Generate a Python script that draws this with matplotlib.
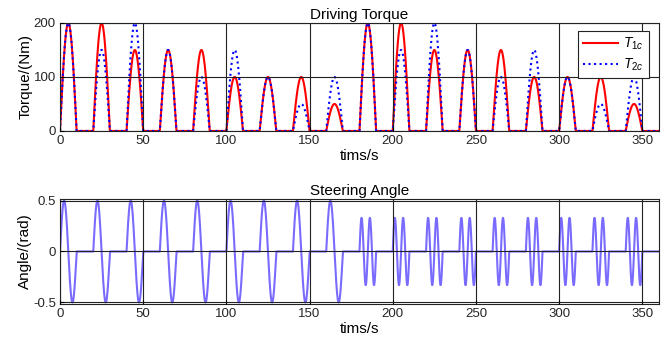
import numpy as np
from matplotlib import pyplot as plt

plt.rcParams['font.family'] = ['Liberation Sans', 'DejaVu Sans']
plt.rcParams['font.size'] = 9
plt.rcParams['mathtext.fontset'] = 'custom'
plt.rcParams['mathtext.it'] = 'Liberation Sans:italic'
plt.rcParams['mathtext.rm'] = 'Liberation Sans'

# pulse start times (s), each pulse lasts 10 s
pulse_start = [0, 20, 40, 60, 80, 100, 120, 140, 160,
               180, 200, 220, 240, 260, 280, 300, 320, 340]
# peak torque of each pulse (Nm)
t1_peak = [200, 200, 150, 150, 150, 100, 100, 100, 50,
           200, 200, 150, 150, 150, 100, 100, 100, 50]
t2_peak = [200, 150, 200, 150, 100, 150, 100, 50, 100,
           200, 150, 200, 150, 100, 150, 100, 50, 100]
# steering amplitude (rad) and sine cycles per pulse
steer_amp = [0.5, 0.5, 0.5, 0.5, 0.5, 0.5, 0.5, 0.5, 0.5,
             0.33, 0.33, 0.33, 0.33, 0.33, 0.33, 0.33, 0.33, 0.33]
steer_cyc = [1, 1, 1, 1, 1, 1, 1, 1, 1, 2, 2, 2, 2, 2, 2, 2, 2, 2]
pulse_len = 10

t = np.arange(0, 360.05, 0.1)
T1 = np.zeros_like(t)
T2 = np.zeros_like(t)
ang = np.zeros_like(t)
for s, p1, p2, a, c in zip(pulse_start, t1_peak, t2_peak, steer_amp, steer_cyc):
    m = (t >= s) & (t <= s + pulse_len)
    ph = (t[m] - s) / pulse_len
    T1[m] = p1 * np.sin(np.pi * ph)
    T2[m] = p2 * np.sin(np.pi * ph)
    ang[m] = a * np.sin(2 * np.pi * c * ph)

fig = plt.figure(figsize=(6.68, 3.53), dpi=100)
ax1 = fig.add_axes([0.0898, 0.629, 0.8967, 0.306])
ax2 = fig.add_axes([0.0898, 0.1388, 0.8967, 0.2975])

ax1.plot(t, T1, color='#ff0000', lw=1.5, label=r'$T_{1c}$')
ax1.plot(t, T2, color='#0000ff', lw=1.5, ls=':', label=r'$T_{2c}$')
ax1.set_xlim(0, 360)
ax1.set_ylim(0, 200)
ax1.set_yticks([0, 100, 200])
ax1.set_title('Driving Torque', fontsize=11, pad=3)
ax1.set_xlabel('tims/s', fontsize=11, labelpad=1)
ax1.set_ylabel('Torque/(Nm)', fontsize=11, labelpad=1)
leg = ax1.legend(loc='upper right', bbox_to_anchor=(0.983, 0.926), borderaxespad=0,
                 fancybox=False, edgecolor='#222222', framealpha=1, fontsize=10,
                 handlelength=2.5, handletextpad=0.4, borderpad=0.35, labelspacing=0.3)
leg.get_frame().set_linewidth(0.8)

ax2.plot(t, ang, color='#7a6bff', lw=1.5)
ax2.set_xlim(0, 360)
ax2.set_ylim(-0.515, 0.515)
ax2.set_yticks([-0.5, 0, 0.5])
ax2.set_yticklabels(['-0.5', '0', '0.5'])
ax2.set_title('Steering Angle', fontsize=11, pad=3)
ax2.set_xlabel('tims/s', fontsize=11, labelpad=1)
ax2.set_ylabel('Angle/(rad)', fontsize=11, labelpad=1)

for ax in (ax1, ax2):
    ax.set_xticks(range(0, 351, 50))
    ax.grid(True, color='#222222', lw=0.8)
    ax.set_axisbelow(False)
    ax.tick_params(direction='in', length=3, labelsize=9.5, pad=3, labelcolor='#262626')
    for sp in ax.spines.values():
        sp.set_linewidth(0.8)
        sp.set_color('#222222')

fig.savefig('out.png', dpi=100)
